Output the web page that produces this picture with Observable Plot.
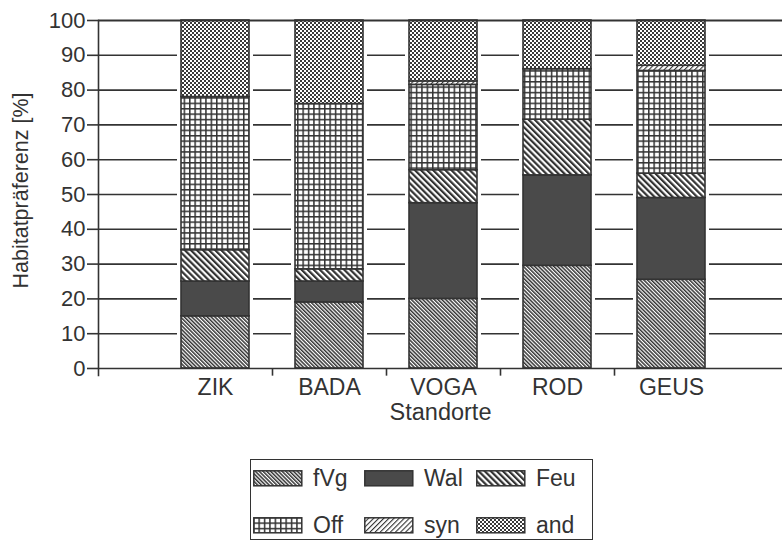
<!DOCTYPE html>
<html><head><meta charset="utf-8">
<script src="https://cdn.jsdelivr.net/npm/d3@7"></script>
<script src="https://cdn.jsdelivr.net/npm/@observablehq/plot@0.6"></script>
<style>
body{margin:0;background:#fff;font-family:"Liberation Sans",Arial,sans-serif;color:#333}
#chart svg{display:block}
#legend{position:relative;margin-left:250px;margin-top:9px;width:343px;height:81px;border:1.5px solid #333;box-sizing:border-box}
.item{position:absolute;display:flex;align-items:center;font-size:23px;line-height:1}
.item svg{display:block}
.item span{margin-left:10px}
#err{font-size:11px;color:red}
</style></head><body>
<svg width="0" height="0" style="position:absolute">
<defs>
<pattern id="p-fVg" patternUnits="userSpaceOnUse" width="2.7" height="10" patternTransform="rotate(-45)"><rect width="2.7" height="10" fill="#fff"/><rect width="1.5" height="10" fill="#333"/></pattern>
<pattern id="p-Feu" patternUnits="userSpaceOnUse" width="4.3" height="10" patternTransform="rotate(-45)"><rect width="4.3" height="10" fill="#fff"/><rect width="2.2" height="10" fill="#333"/></pattern>
<pattern id="p-syn" patternUnits="userSpaceOnUse" width="3.6" height="10" patternTransform="rotate(45)"><rect width="3.6" height="10" fill="#fff"/><rect width="1.1" height="10" fill="#333"/></pattern>
<pattern id="p-Off" patternUnits="userSpaceOnUse" width="5.4" height="5.4"><rect width="5.4" height="5.4" fill="#fff"/><rect width="5.4" height="1.5" fill="#333"/><rect width="1.5" height="5.4" fill="#333"/></pattern>
<pattern id="p-and" patternUnits="userSpaceOnUse" width="4" height="4"><rect width="4" height="4" fill="#fff"/><rect width="2" height="2" fill="#3a3a3a"/><rect x="2" y="2" width="2" height="2" fill="#3a3a3a"/></pattern>
</defs>
</svg>
<div id="chart"></div>
<div id="legend"></div>
<div id="err"></div>
<script>
const sites = ["ZIK", "BADA", "VOGA", "ROD", "GEUS"];
const categories = ["fVg", "Wal", "Feu", "Off", "syn", "and"];
const fVg = [15, 19, 20, 29.5, 25.5];
const Wal = [10, 6, 27.5, 26, 23.5];
const Feu = [9, 3.5, 9.5, 16, 7];
const Off = [44, 47.5, 24.5, 14.5, 29.5];
const syn = [0, 0, 1, 0, 1.5];
const andV = [22, 24, 17.5, 14, 13];
const yTicks = [0, 10, 20, 30, 40, 50, 60, 70, 80, 90, 100];

try {
const series = {fVg: fVg, Wal: Wal, Feu: Feu, Off: Off, syn: syn, and: andV};
const table = sites.flatMap((s, i) => categories.map(c => ({site: s, cat: c, value: series[c][i]})))
  .filter(d => d.value > 0);
const fills = {fVg: "url(#p-fVg)", Wal: "#4a4a4a", Feu: "url(#p-Feu)", Off: "url(#p-Off)", syn: "url(#p-syn)", and: "url(#p-and)"};
const ink = "#333";

const plot = Plot.plot({
  width: 782, height: 450,
  marginLeft: 98, marginRight: 0, marginTop: 20, marginBottom: 82,
  style: {fontFamily: "Liberation Sans, Arial, sans-serif", color: ink, background: "white", overflow: "visible"},
  x: {type: "band", domain: sites, range: [157, 728.5], paddingInner: 0.4, paddingOuter: 0.2, label: null},
  y: {domain: [0, 100], label: null},
  color: {domain: categories, range: categories.map(c => fills[c])},
  marks: [
    Plot.ruleY(yTicks.filter(v => v > 0 && v < 100), {stroke: ink, strokeWidth: 1.6}),
    Plot.barY(sites, {x: d => d, y1: 0, y2: 100, fill: "white", insetLeft: -4, insetRight: -4}),
    Plot.barY(table, Plot.stackY({x: "site", y: "value", fill: "cat", stroke: ink, strokeWidth: 1.6})),
    Plot.ruleY([100], {stroke: ink, strokeWidth: 2.2}),
    Plot.ruleY([0], {stroke: ink, strokeWidth: 1.6}),
    Plot.frame({anchor: "left", stroke: ink, strokeWidth: 1.6, insetBottom: -7}),
    Plot.ruleX(sites.slice(1), {x: d => d, y1: 0, y2: -2.2, dx: -57, stroke: ink, strokeWidth: 1.6}),
    Plot.axisY({ticks: yTicks, tickSize: 11, tickPadding: 2, fontSize: 22, tickFormat: d => String(d), label: null, strokeWidth: 1.6}),
    Plot.axisX({tickSize: 0, tickPadding: 10, fontSize: 23, label: null}),
    Plot.text(["Standorte"], {frameAnchor: "bottom", dy: 35, lineAnchor: "top", fontSize: 23.5, fill: ink}),
    Plot.text(["Habitatpräferenz [%]"], {frameAnchor: "left", dx: -77, dy: -4, rotate: -90, textAnchor: "middle", fontSize: 21.5, fill: ink})
  ]
});
document.getElementById("chart").appendChild(plot);

const legend = document.getElementById("legend");
const colX = [2, 113, 225];
const rowY = [7, 54];
categories.forEach((c, i) => {
  const it = document.createElement("div");
  it.className = "item";
  it.style.left = colX[i % 3] + "px";
  it.style.top = rowY[Math.floor(i / 3)] + "px";
  it.innerHTML = '<svg width="50" height="17"><rect x="0.8" y="0.8" width="48" height="15" fill="' + fills[c] + '" stroke="' + ink + '" stroke-width="1.5"/></svg><span>' + c + '</span>';
  legend.appendChild(it);
});
} catch (e) {
  document.getElementById("err").textContent = String(e && e.stack || e);
}
</script>
</body></html>
